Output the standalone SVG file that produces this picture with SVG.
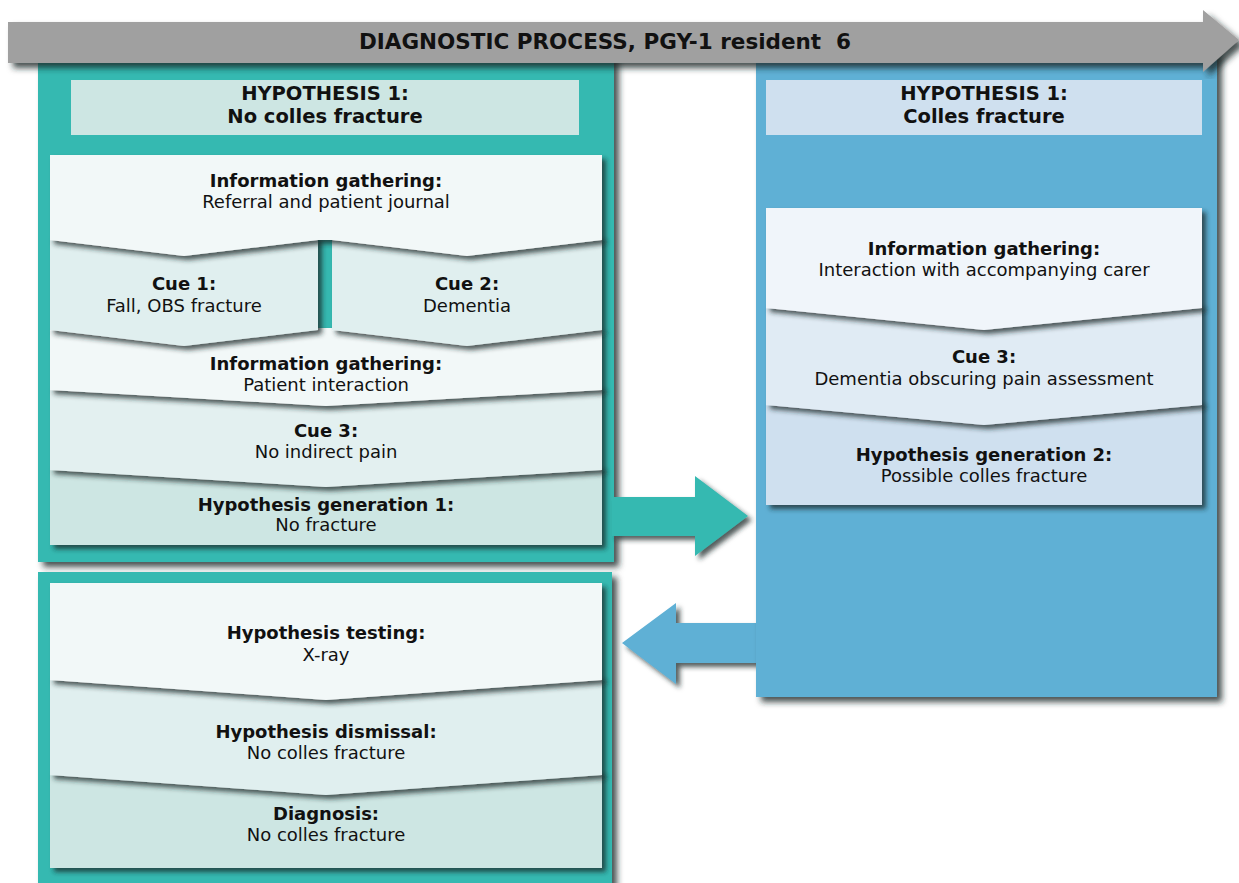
<svg xmlns="http://www.w3.org/2000/svg" width="1239" height="883" viewBox="0 0 1239 883">
  <defs>
    <filter id="shadow" x="-5%" y="-10%" width="115%" height="130%">
      <feDropShadow dx="4" dy="4" stdDeviation="2.5" flood-color="#1c2626" flood-opacity="0.75"/>
    </filter>
    <filter id="shadow-lg" x="-5%" y="-5%" width="115%" height="115%">
      <feDropShadow dx="5" dy="5" stdDeviation="3" flood-color="#1c2626" flood-opacity="0.8"/>
    </filter>
    <style>
      text { font-family: "DejaVu Sans", Verdana, sans-serif; fill: #111; text-anchor: middle; }
      .title { font-size: 21.5px; font-weight: bold; }
      .head { font-size: 19.5px; font-weight: bold; }
      .b { font-size: 18px; font-weight: bold; }
      .r { font-size: 18px; }
      .teal { fill: #35b9b1; }
      .blue { fill: #5eb0d5; }
      .t-light { fill: #f2f8f8; }
      .t-mid { fill: #e0efef; }
      .t-mid2 { fill: #e3f0f0; }
      .t-dark { fill: #cde6e3; }
      .b-light { fill: #f0f5fa; }
      .b-mid { fill: #e0ebf4; }
      .b-dark { fill: #cfe0ef; }
      .panel { filter: url(#shadow); }
    </style>
  </defs>

  <rect width="1239" height="883" fill="#ffffff"/>

  <!-- left column, first phase -->
  <g id="phase-no-fracture">
    <rect class="teal" x="38" y="50" width="576" height="512" filter="url(#shadow-lg)"/>
    <rect class="t-dark" x="71" y="80" width="508" height="55"/>
    <text class="head" x="325" y="100">HYPOTHESIS 1:</text>
    <text class="head" x="325" y="123">No colles fracture</text>
  </g>

  <g id="hypothesis-generation-1">
    <rect class="t-dark panel" x="50" y="466" width="552" height="79"/>
    <text class="b" x="326" y="511">Hypothesis generation 1:</text>
    <text class="r" x="326" y="531">No fracture</text>
  </g>
  <g id="cue-3-left">
    <polygon class="t-mid2 panel" points="50,386 602,386 602,470 326,487 50,470"/>
    <text class="b" x="326" y="437">Cue 3:</text>
    <text class="r" x="326" y="458">No indirect pain</text>
  </g>
  <g id="info-gathering-patient">
    <polygon class="t-light panel" points="50,328 602,328 602,390 326,406 50,390"/>
    <text class="b" x="326" y="370">Information gathering:</text>
    <text class="r" x="326" y="391">Patient interaction</text>
  </g>
  <g id="cue-1">
    <polygon class="t-mid panel" points="50,236 318,236 318,330 184,346 50,330"/>
    <text class="b" x="184" y="290">Cue 1:</text>
    <text class="r" x="184" y="312">Fall, OBS fracture</text>
  </g>
  <g id="cue-2">
    <polygon class="t-mid panel" points="332,236 602,236 602,330 467,346 332,330"/>
    <text class="b" x="467" y="290">Cue 2:</text>
    <text class="r" x="467" y="312">Dementia</text>
  </g>
  <g id="info-gathering-referral">
    <polygon class="t-light panel" points="50,155 602,155 602,240 467,256 332,240 318,240 184,256 50,240"/>
    <text class="b" x="326" y="187">Information gathering:</text>
    <text class="r" x="326" y="208">Referral and patient journal</text>
  </g>

  <!-- left column, second phase -->
  <g id="phase-testing">
    <rect class="teal" x="38" y="572" width="574" height="330" filter="url(#shadow-lg)"/>
  </g>
  <g id="diagnosis">
    <rect class="t-dark panel" x="50" y="771" width="552" height="97"/>
    <text class="b" x="326" y="820">Diagnosis:</text>
    <text class="r" x="326" y="841">No colles fracture</text>
  </g>
  <g id="hypothesis-dismissal">
    <polygon class="t-mid panel" points="50,676 602,676 602,775 326,795 50,775"/>
    <text class="b" x="326" y="738">Hypothesis dismissal:</text>
    <text class="r" x="326" y="759">No colles fracture</text>
  </g>
  <g id="hypothesis-testing">
    <polygon class="t-light panel" points="50,583 602,583 602,680 326,700 50,680"/>
    <text class="b" x="326" y="639">Hypothesis testing:</text>
    <text class="r" x="326" y="661">X-ray</text>
  </g>

  <!-- transitions between phases -->
  <g id="connectors">
    <polygon class="teal" points="612,497 695,497 695,476 748,516 695,556 695,536 612,536" filter="url(#shadow)"/>
    <polygon class="blue" points="770,623 676,623 676,603 622,643 676,684 676,663 770,663" filter="url(#shadow)"/>
  </g>

  <!-- right column -->
  <g id="phase-fracture">
    <rect class="blue" x="756" y="50" width="461" height="647" filter="url(#shadow-lg)"/>
    <rect class="b-dark" x="766" y="80" width="436" height="55"/>
    <text class="head" x="984" y="100">HYPOTHESIS 1:</text>
    <text class="head" x="984" y="123">Colles fracture</text>
  </g>
  <g id="hypothesis-generation-2">
    <rect class="b-dark panel" x="766" y="401" width="436" height="104"/>
    <text class="b" x="984" y="461">Hypothesis generation 2:</text>
    <text class="r" x="984" y="482">Possible colles fracture</text>
  </g>
  <g id="cue-3-right">
    <polygon class="b-mid panel" points="766,304 1202,304 1202,405 984,425 766,405"/>
    <text class="b" x="984" y="363">Cue 3:</text>
    <text class="r" x="984" y="385">Dementia obscuring pain assessment</text>
  </g>
  <g id="info-gathering-carer">
    <polygon class="b-light panel" points="766,208 1202,208 1202,308 984,330 766,308"/>
    <text class="b" x="984" y="255">Information gathering:</text>
    <text class="r" x="984" y="276">Interaction with accompanying carer</text>
  </g>

  <!-- process timeline bar -->
  <g id="process-bar">
    <polygon points="8,22 1203,22 1203,10 1239,40 1203,72 1203,63 8,63" fill="#a0a0a0" filter="url(#shadow-lg)"/>
    <text class="title" x="605" y="49" xml:space="preserve">DIAGNOSTIC PROCESS, PGY-1 resident  6</text>
  </g>
</svg>
